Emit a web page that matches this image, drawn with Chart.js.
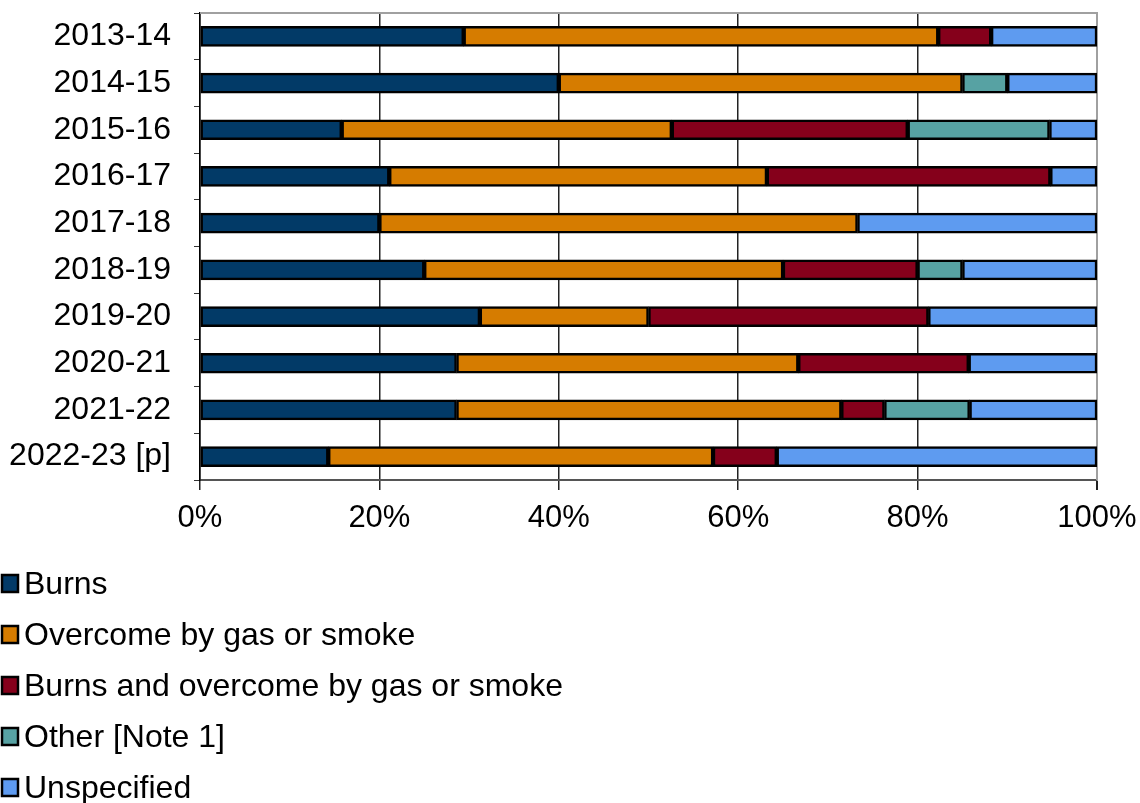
<!DOCTYPE html>
<html>
<head>
<meta charset="utf-8">
<script src="https://cdn.jsdelivr.net/npm/chart.js@4/dist/chart.umd.min.js"></script>
<style>
    html, body { margin: 0; padding: 0; background: #fff; }
    #wrap { width: 1140px; height: 803px; position: relative; }
</style>
</head>
<body>
<div id="wrap"><canvas id="injuries"></canvas></div>
<script>
const years = ['2013-14', '2014-15', '2015-16', '2016-17', '2017-18',
               '2018-19', '2019-20', '2020-21', '2021-22', '2022-23 [p]'];

// share of casualties by injury type, % of each year
const burns       = [29.4, 40.0, 15.8, 21.1, 20.0, 25.0, 31.2, 28.6, 28.6, 14.3];
const overcome    = [52.9, 45.0, 36.8, 42.1, 53.3, 40.0, 18.8, 38.1, 42.9, 42.9];
const burnsAndGas = [ 5.9,  0.0, 26.3, 31.6,  0.0, 15.0, 31.2, 19.0,  4.8,  7.1];
const other       = [ 0.0,  5.0, 15.8,  0.0,  0.0,  5.0,  0.0,  0.0,  9.5,  0.0];
const unspecified = [11.8, 10.0,  5.3,  5.2, 26.7, 15.0, 18.8, 14.3, 14.2, 35.7];

const xTicks = [0, 20, 40, 60, 80, 100];

const FONT = '"Liberation Sans", Arial, sans-serif';

function series(label, data, color) {
    return {
        label: label,
        data: data,
        backgroundColor: color,
        borderColor: '#000',
        borderWidth: 2.5,
        borderSkipped: false,
        barThickness: 20
    };
}

// light grey frame on top and right of the plot
const plotFrame = {
    id: 'plotFrame',
    beforeDatasetsDraw(chart) {
        const { ctx, chartArea: a } = chart;
        ctx.save();
        ctx.strokeStyle = '#a0a0a0';
        ctx.lineWidth = 2;
        ctx.beginPath();
        ctx.moveTo(a.left, a.top);
        ctx.lineTo(a.right, a.top);
        ctx.lineTo(a.right, a.bottom);
        ctx.stroke();
        ctx.restore();
    }
};

// one legend entry per line under the chart
const stackedLegend = {
    id: 'stackedLegend',
    afterDraw(chart) {
        const ctx = chart.ctx;
        ctx.save();
        ctx.font = '32px ' + FONT;
        ctx.textBaseline = 'middle';
        chart.data.datasets.forEach((ds, i) => {
            const y = 583 + i * 51;
            ctx.fillStyle = ds.backgroundColor;
            ctx.fillRect(2, y - 8, 16, 17);
            ctx.strokeStyle = '#000';
            ctx.lineWidth = 2.5;
            ctx.strokeRect(2, y - 8, 16, 17);
            ctx.fillStyle = '#000';
            ctx.fillText(ds.label, 24, y + 2);
        });
        ctx.restore();
    }
};

new Chart(document.getElementById('injuries'), {
    type: 'bar',
    data: {
        labels: years,
        datasets: [
            series('Burns', burns, '#023a67'),
            series('Overcome by gas or smoke', overcome, '#d67c00'),
            series('Burns and overcome by gas or smoke', burnsAndGas, '#85001b'),
            series('Other [Note 1]', other, '#57a2a3'),
            series('Unspecified', unspecified, '#5e9bf0')
        ]
    },
    options: {
        indexAxis: 'y',
        responsive: true,
        maintainAspectRatio: false,
        animation: false,
        layout: { padding: { top: 13, right: 43, bottom: 263, left: 0 } },
        plugins: {
            legend: { display: false },
            tooltip: { enabled: false }
        },
        scales: {
            x: {
                stacked: true,
                min: 0,
                max: 100,
                afterBuildTicks: axis => { axis.ticks = xTicks.map(v => ({ value: v })); },
                afterFit: axis => {
                    axis.height = 60;
                    axis.paddingLeft = 0;
                    axis.paddingRight = 0;
                },
                border: { color: '#555', width: 2 },
                grid: {
                    color: c => (c.tick && c.tick.value === 100 ? '#a0a0a0' : '#222'),
                    lineWidth: c => (c.tick && c.tick.value === 100 ? 2 : 1.5),
                    tickColor: '#222',
                    tickLength: 10
                },
                ticks: {
                    color: '#000',
                    padding: 10,
                    maxRotation: 0,
                    font: { family: FONT, size: 31 },
                    callback: v => v + '%'
                }
            },
            y: {
                stacked: true,
                afterFit: axis => {
                    axis.width = 200;
                    axis.paddingTop = 0;
                    axis.paddingBottom = 0;
                },
                border: { color: '#000', width: 1.5 },
                grid: {
                    drawOnChartArea: false,
                    tickColor: '#333',
                    tickLength: 6
                },
                ticks: {
                    color: '#000',
                    padding: 23,
                    font: { family: FONT, size: 32 }
                }
            }
        }
    },
    plugins: [plotFrame, stackedLegend]
});
</script>
</body>
</html>
